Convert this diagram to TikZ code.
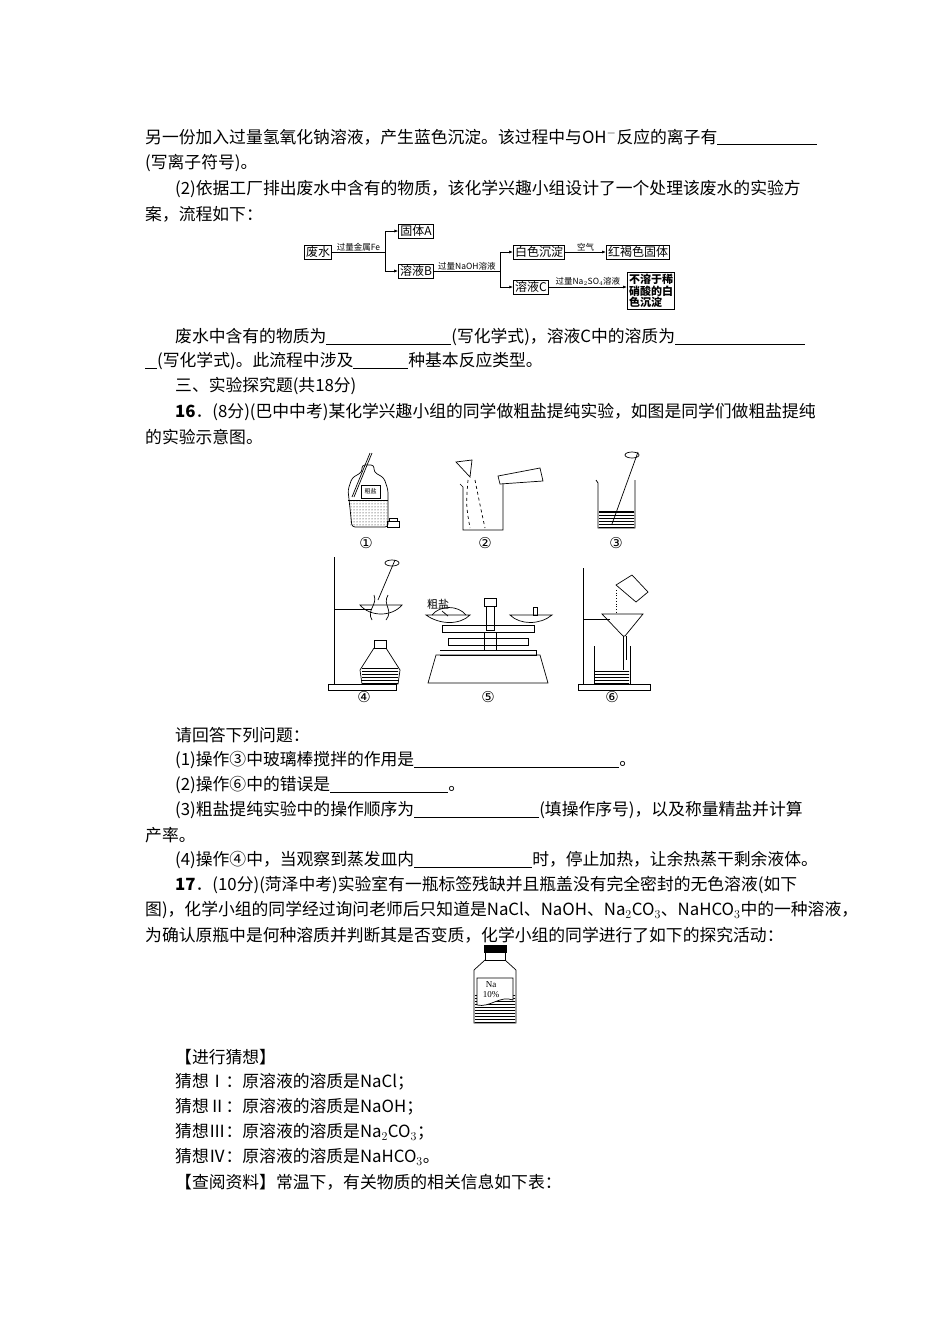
\documentclass[tikz,border=0pt]{standalone}
\usepackage{fontspec}
\setmainfont{Liberation Serif}
\newfontfamily\cjk{Noto Sans CJK SC}
\newfontfamily\dju{DejaVu Sans}
\usetikzlibrary{arrows.meta,patterns}
\begin{document}
\begin{tikzpicture}[x=1pt,y=-1pt,
 tl/.style={anchor=west,inner sep=0pt,font=\cjk\fontsize{16.8}{18}\selectfont},
 bx/.style={draw,thick,inner sep=1.5pt,font=\cjk\fontsize{12}{13}\selectfont},
 sm/.style={inner sep=0.8pt,font=\cjk\fontsize{8.5}{8.5}\selectfont},
 ar/.style={-{Latex[length=4pt]},thick},
 app/.style={line width=0.7pt},
 lab/.style={inner sep=0pt,font=\dju\fontsize{15}{16}\selectfont}]
\useasboundingbox (0,0) rectangle (950,1344);
\fill[white] (0,0) rectangle (950,1344);
\node[tl] (t1) at (145,137) {另一份加入过量氢氧化钠溶液，产生蓝色沉淀。该过程中与OH$^-$反应的离子有\underline{\hspace{100pt}}};
\node[tl] (t2) at (145,163) {(写离子符号)。};
\node[tl] (t3) at (175,189) {(2)依据工厂排出废水中含有的物质，该化学兴趣小组设计了一个处理该废水的实验方};
\node[tl] (t4) at (145,214) {案，流程如下：};
% flowchart
\node[bx] (fs) at (318,252) {废水};
\node[bx] (gA) at (416,231) {固体A};
\node[bx] (rB) at (416,271) {溶液B};
\node[bx] (bs) at (539,252) {白色沉淀};
\node[bx] (hh) at (638,252) {红褐色固体};
\node[bx] (rC) at (531,287) {溶液C};
\node[bx,align=left,font=\cjk\fontsize{11}{11.5}\selectfont\bfseries] (bd) at (651,291) {不溶于稀\\硝酸的白\\色沉淀};
\coordinate (j1) at (385,252);
\coordinate (j2) at (500,271);
\draw[thick] (fs.east) -- node[sm,above]{过量金属Fe} (j1);
\draw[ar] (j1) |- (gA.west);
\draw[ar] (j1) |- (rB.west);
\draw[thick] (rB.east) -- node[sm,above]{过量NaOH溶液} (j2);
\draw[ar] (j2) |- (bs.west);
\draw[ar] (j2) |- (rC.west);
\draw[ar] (bs.east) -- node[sm,above]{空气} (hh.west);
\draw[ar] (rC.east) -- node[sm,above]{过量Na$_2$SO$_4$溶液} (rC.east -| bd.west);
\node[tl] (t5) at (175,337) {废水中含有的物质为\underline{\hspace{125pt}}(写化学式)，溶液C中的溶质为\underline{\hspace{130pt}}};
\node[tl] (t6) at (145,361) {\underline{\hspace{12pt}}(写化学式)。此流程中涉及\underline{\hspace{55pt}}种基本反应类型。};
\node[tl] (t7) at (175,386) {三、实验探究题(共18分)};
\node[tl] (t8) at (175,412) {\textbf{16}．(8分)(巴中中考)某化学兴趣小组的同学做粗盐提纯实验，如图是同学们做粗盐提纯};
\node[tl] (t9) at (145,437) {的实验示意图。};
% apparatus 1: bottle
\begin{scope}[app]
\draw[rounded corners=3pt] (352,527) -- (348,490) -- (352,478) -- (362,472) -- (362,465) -- (374,465) -- (374,472) -- (384,478) -- (388,490) -- (388,527) -- cycle;
\draw (348,500) -- (388,500);
\fill[pattern=dots] (349,501) rectangle (387,526);
\draw[fill=white] (361,485) rectangle (380,498);
\node[sm,font=\cjk\fontsize{6}{6}\selectfont] (cy1) at (370.5,491.5) {粗盐};
\draw (352,497) -- (370,453); \draw (354,497) -- (372,453);
\draw (387,527) rectangle (399,521); \draw (389,521) rectangle (397,518);
\node[lab] (n1) at (366,543) {①};
% 2
\draw (460,484) -- (463,487) -- (463,530) -- (503,530) -- (503,484);
\draw (456,462) -- (472,460) -- (470,477) -- cycle;
\draw[dashed] (468,480) .. controls (466,505) .. (470,528);
\draw[dashed] (475,480) .. controls (480,505) .. (485,528);
\draw (498,476) -- (540,468) -- (543,481) -- (500,484) -- cycle;
\node[lab] (n2) at (485,543) {②};
% 3
\draw (596,480) -- (598,483) -- (598,528) -- (635,528) -- (635,480);
\fill[pattern=horizontal lines] (599,511) rectangle (634,527);
\draw (599,511) -- (634,511);
\draw (612,524) -- (638,452);
\draw (632,455) ellipse (7 and 3);
\node[lab] (n3) at (616,543) {③};
% 4
\draw (334,557) -- (334,684); \draw (328,684) rectangle (396,690);
\draw (334,609) -- (372,609);
\draw (360,605) .. controls (370,617) and (392,617) .. (402,605) -- cycle;
\draw (378,600) -- (395,560); \draw (392,563) ellipse (7 and 3);
\draw (372,620) .. controls (366,610) and (378,605) .. (374,595);
\draw (386,620) .. controls (394,610) and (382,605) .. (388,595);
\draw (374,640) rectangle (386,648);
\draw (374,648) -- (360,670) -- (362,684) -- (398,684) -- (400,670) -- (386,648);
\fill[pattern=horizontal lines] (362,666) rectangle (398,683);
\node[lab] (n4) at (364,697) {④};
% 5
\draw (428,683) -- (436,655) -- (540,655) -- (548,683) -- cycle;
\draw (440,650) -- (536,650) -- (536,655) -- (440,655);
\draw (442,625) rectangle (534,632);
\draw (448,638) rectangle (528,645);
\draw (426,615) .. controls (440,625) and (460,625) .. (470,615) -- cycle;
\draw (432,615) .. controls (440,605) and (458,605) .. (466,615);
\draw (510,615) .. controls (520,625) and (540,625) .. (552,615) -- cycle;
\draw (533,607) rectangle (537,615);
\draw (484,598) rectangle (496,606); \draw (486,606) rectangle (494,630);
\draw (484,632) rectangle (496,650);
\node[inner sep=0pt,font=\cjk\fontsize{11}{12}\selectfont] (cy5) at (438,604) {粗盐};
\draw (442,611) -- (448,616);
\node[lab] (n5) at (488,697) {⑤};
% 6
\draw (583,568) -- (583,684); \draw (578,684) rectangle (650,690);
\draw (583,619) -- (610,619);
\draw (602,614) -- (643,614) -- (625,636) -- (623,636) -- cycle;
\draw (623,636) -- (623,670); \draw (626,636) -- (626,660);
\draw (594,646) -- (594,684) -- (630,684) -- (630,646);
\fill[pattern=horizontal lines] (595,670) rectangle (629,683);
\draw (616,585) -- (632,575) -- (648,592) -- (636,602) -- cycle;
\draw[dotted] (616,590) -- (616,612);
\node[lab] (n6) at (612,697) {⑥};
\end{scope}
\node[tl] (q0) at (175,735) {请回答下列问题：};
\node[tl] (q1) at (175,760) {(1)操作③中玻璃棒搅拌的作用是\underline{\hspace{205pt}}。};
\node[tl] (q2) at (175,785) {(2)操作⑥中的错误是\underline{\hspace{118pt}}。};
\node[tl] (q3) at (175,810) {(3)粗盐提纯实验中的操作顺序为\underline{\hspace{125pt}}(填操作序号)，以及称量精盐并计算};
\node[tl] (q4) at (145,835) {产率。};
\node[tl] (q5) at (175,860) {(4)操作④中，当观察到蒸发皿内\underline{\hspace{118pt}}时，停止加热，让余热蒸干剩余液体。};
\node[tl] (q6) at (175,885) {\textbf{17}．(10分)(菏泽中考)实验室有一瓶标签残缺并且瓶盖没有完全密封的无色溶液(如下};
\node[tl] (q7) at (145,910) {图)，化学小组的同学经过询问老师后只知道是NaCl、NaOH、Na$_2$CO$_3$、NaHCO$_3$中的一种溶液，};
\node[tl] (q8) at (145,935) {为确认原瓶中是何种溶质并判断其是否变质，化学小组的同学进行了如下的探究活动：};
% bottle 17
\begin{scope}[app]
\draw[fill=black] (484,945) rectangle (506,952);
\draw (485,952) rectangle (505,960);
\draw (485,960) -- (474,970) -- (474,1023) -- (516,1023) -- (516,970) -- (505,960);
\fill[pattern=horizontal lines] (475,995) rectangle (515,1022);
\draw[fill=white] (477,978) -- (513,978) -- (513,1000) .. controls (500,995) and (490,1008) .. (477,1005) -- cycle;
\node[inner sep=0pt,font=\fontsize{9}{10}\selectfont,align=center] (lb) at (491,990) {Na\\10\%};
\end{scope}
\node[tl] (g0) at (175,1057) {【进行猜想】};
\node[tl] (g1) at (175,1082) {猜想Ⅰ：原溶液的溶质是NaCl；};
\node[tl] (g2) at (175,1107) {猜想Ⅱ：原溶液的溶质是NaOH；};
\node[tl] (g3) at (175,1132) {猜想Ⅲ：原溶液的溶质是Na$_2$CO$_3$；};
\node[tl] (g4) at (175,1157) {猜想Ⅳ：原溶液的溶质是NaHCO$_3$。};
\node[tl] (g5) at (175,1182) {【查阅资料】常温下，有关物质的相关信息如下表：};
\end{tikzpicture}
\end{document}
